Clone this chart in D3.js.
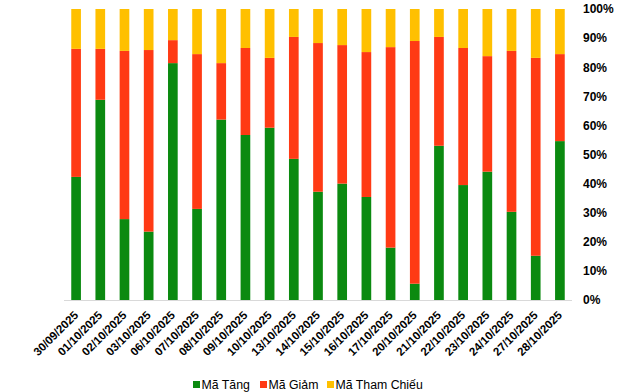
<!DOCTYPE html>
<html>
<head>
<meta charset="utf-8">
<script src="https://cdn.jsdelivr.net/npm/d3@7"></script>
<style>
html,body{margin:0;padding:0;background:#fff;}
svg{display:block;font-family:Arial,"Liberation Sans",sans-serif;}
</style>
</head>
<body>
<svg id="chart" width="640" height="392"></svg>
<script>
const categories = ["30/09/2025","01/10/2025","02/10/2025","03/10/2025","06/10/2025","07/10/2025","08/10/2025","09/10/2025","10/10/2025","13/10/2025","14/10/2025","15/10/2025","16/10/2025","17/10/2025","20/10/2025","21/10/2025","22/10/2025","23/10/2025","24/10/2025","27/10/2025","28/10/2025"];
const maTang =      [42.3,68.8,27.8,23.5,81.4,31.3,62.0,56.7,59.2,48.5,37.2,40.0,35.4,18.0, 5.6,53.0,39.5,44.1,30.3,15.2,54.6];
const maGiam =      [44.0,17.5,57.8,62.4, 7.9,53.2,19.4,29.9,24.0,41.9,51.1,47.6,49.8,68.9,83.4,37.4,47.1,39.7,55.3,68.0,29.9];
const maThamChieu = [13.7,13.7,14.4,14.1,10.7,15.5,18.6,13.4,16.8, 9.6,11.7,12.4,14.8,13.1,11.0, 9.6,13.4,16.2,14.4,16.8,15.5];
const seriesNames = ["Mã Tăng","Mã Giảm","Mã Tham Chiếu"];
const seriesColors = ["#0B8A10","#FF3A14","#FFC000"];
const yTicks = [0,0.1,0.2,0.3,0.4,0.5,0.6,0.7,0.8,0.9,1.0];

const svg = d3.select("#chart");
const m = {left:64, right:68, top:9, bottom:92};
const W = 640, H = 392;
const x = d3.scaleBand().domain(categories).range([m.left, W - m.right]).paddingInner(0.6).paddingOuter(0.3);
const y = d3.scaleLinear().domain([0,1]).range([H - m.bottom, m.top]);

const rows = categories.map((c,i) => {
  const tot = maTang[i] + maGiam[i] + maThamChieu[i];
  return {cat:c, s0: maTang[i]/tot, s1: maGiam[i]/tot, s2: maThamChieu[i]/tot};
});
const stack = d3.stack().keys(["s0","s1","s2"])(rows);

svg.append("g").selectAll("g").data(stack).join("g")
  .attr("fill", (d,i) => seriesColors[i])
  .selectAll("rect").data(d => d).join("rect")
  .attr("x", d => x(d.data.cat))
  .attr("width", x.bandwidth())
  .attr("y", d => y(d[1]))
  .attr("height", d => y(d[0]) - y(d[1]));

// x axis line
svg.append("line")
  .attr("x1", m.left).attr("x2", W - m.right)
  .attr("y1", y(0) + 0.5).attr("y2", y(0) + 0.5)
  .attr("stroke", "#D9D9D9").attr("stroke-width", 1);

// x labels
svg.append("g").selectAll("text").data(categories).join("text")
  .attr("transform", d => `translate(${x(d) + x.bandwidth()/2},${y(0) + 13}) rotate(-45)`)
  .attr("text-anchor", "end")
  .attr("dy", "0.35em")
  .attr("font-size", 11.5)
  .attr("font-weight", "bold")
  .attr("fill", "#000")
  .text(d => d);

// y axis (right)
const yAxis = d3.axisRight(y).tickValues(yTicks).tickFormat(d3.format(".0%")).tickSize(0).tickPadding(0);
const ya = svg.append("g").attr("transform", `translate(${W - m.right + 11},0)`).call(yAxis);
ya.select(".domain").remove();
ya.selectAll("text").attr("font-size", 12).attr("font-weight", "bold").attr("fill", "#000")
  .attr("font-family", "Arial, 'Liberation Sans', sans-serif");

// legend
const legendX = [193, 260, 327];
const lg = svg.append("g").selectAll("g").data(seriesNames).join("g")
  .attr("transform", (d,i) => `translate(${legendX[i]},381)`);
lg.append("rect").attr("width", 7).attr("height", 7).attr("fill", (d,i) => seriesColors[i]);
lg.append("text").attr("x", 8.5).attr("y", 8).attr("font-size", 12.3).attr("fill", "#000").text(d => d);
</script>
</body>
</html>
